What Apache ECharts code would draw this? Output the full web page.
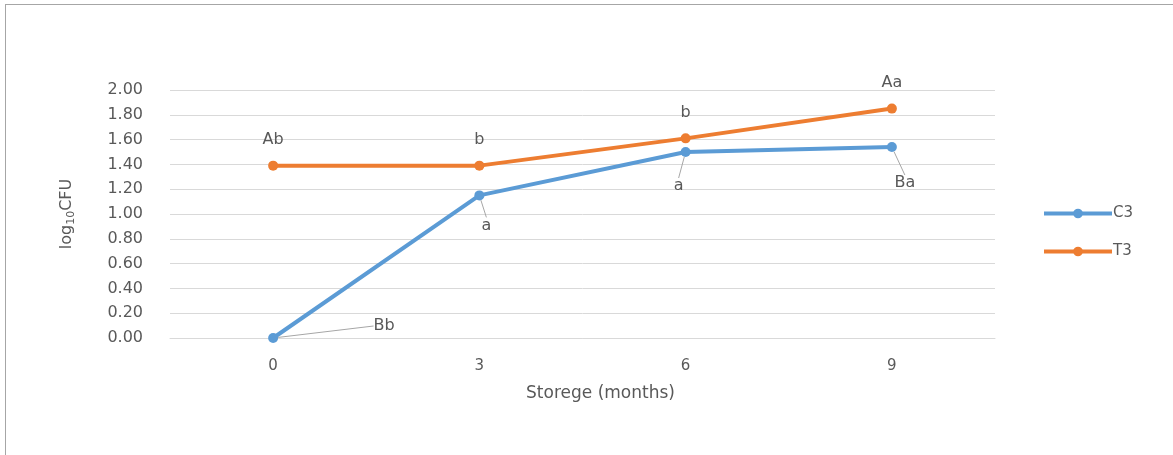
<!DOCTYPE html>
<html>
<head>
<meta charset="utf-8">
<script src="https://cdn.jsdelivr.net/npm/echarts@6/dist/echarts.min.js"></script>
<style>
  html, body { margin: 0; padding: 0; background: #fff; }
  #wrap { position: relative; width: 1173px; height: 455px; overflow: hidden; }
  #frame { position: absolute; left: 5px; top: 4px; width: 1200px; height: 500px;
           border-left: 1px solid #a6a6a6; border-top: 1px solid #a6a6a6; }
  #chart { position: absolute; left: 0; top: 0; width: 1173px; height: 455px; }
</style>
</head>
<body>
<div id="wrap">
  <div id="frame"></div>
  <div id="chart"></div>
</div>
<script>
// Storage time (months)
const months = ['0', '3', '6', '9'];
// log10 CFU counts
const c3Values = [0.00, 1.15, 1.50, 1.54];
const t3Values = [1.39, 1.39, 1.61, 1.85];
// significance letters
const c3Letters = ['Bb', 'a', 'a', 'Ba'];
const t3Letters = ['Ab', 'b', 'b', 'Aa'];

// where each C3 letter sits relative to its point
const c3LabelShift = [[111, -12], [7, 30], [-7, 34], [13, 36]];

const textColor = '#595959';
const font = 'DejaVu Sans';

const chart = echarts.init(document.getElementById('chart'), null, { renderer: 'canvas' });

chart.setOption({
  animation: false,
  textStyle: { fontFamily: font },
  grid: { left: 170, right: 178, top: 90, bottom: 117 },
  legend: {
    orient: 'vertical',
    left: 1042,
    top: 206,
    padding: 0,
    itemWidth: 68,
    itemHeight: 12,
    itemGap: 23,
    lineStyle: { width: 4 },
    textStyle: { color: textColor, fontSize: 15, fontFamily: font, padding: [0, 0, 0, -4] },
    data: ['C3', 'T3']
  },
  xAxis: {
    type: 'category',
    data: months,
    boundaryGap: true,
    axisTick: { show: false },
    axisLine: { lineStyle: { color: '#d9d9d9' } },
    axisLabel: { color: textColor, fontSize: 15, margin: 21 },
    name: 'Storege (months)',
    nameLocation: 'middle',
    nameGap: 47,
    nameTextStyle: { color: textColor, fontSize: 17, padding: [0, 0, 0, 36] }
  },
  yAxis: {
    type: 'value',
    min: 0,
    max: 2,
    interval: 0.2,
    axisLine: { show: false },
    axisTick: { show: false },
    splitLine: { lineStyle: { color: '#d9d9d9', width: 1 } },
    axisLabel: {
      color: textColor, fontSize: 16, margin: 27,
      formatter: v => v.toFixed(2)
    },
    name: '{b|log}{s|10}{b|CFU}',
    nameLocation: 'middle',
    nameGap: 93,
    nameTextStyle: {
      color: textColor,
      rich: {
        b: { fontSize: 16, color: textColor, fontFamily: font, lineHeight: 20, verticalAlign: 'middle' },
        s: { fontSize: 11, color: textColor, fontFamily: font, lineHeight: 20, verticalAlign: 'bottom', padding: [8, 0, 0, 0] }
      }
    }
  },
  series: [
    {
      name: 'C3',
      type: 'line',
      data: c3Values,
      color: '#5b9bd5',
      lineStyle: { width: 4, color: '#5b9bd5' },
      symbol: 'circle',
      symbolSize: 10,
      itemStyle: { color: '#5b9bd5' },
      label: {
        show: true,
        position: 'inside',
        color: textColor,
        fontSize: 16,
        formatter: p => c3Letters[p.dataIndex]
      },
      labelLine: { show: true, lineStyle: { color: '#a6a6a6', width: 1 } },
      labelLayout: p => ({ dx: c3LabelShift[p.dataIndex][0], dy: c3LabelShift[p.dataIndex][1] }),
      z: 3
    },
    {
      name: 'T3',
      type: 'line',
      data: t3Values,
      color: '#ed7d31',
      lineStyle: { width: 4, color: '#ed7d31' },
      symbol: 'circle',
      symbolSize: 10,
      itemStyle: { color: '#ed7d31' },
      label: {
        show: true,
        position: 'top',
        distance: 13,
        color: textColor,
        fontSize: 16,
        formatter: p => t3Letters[p.dataIndex]
      },
      z: 2
    }
  ]
});
</script>
</body>
</html>
